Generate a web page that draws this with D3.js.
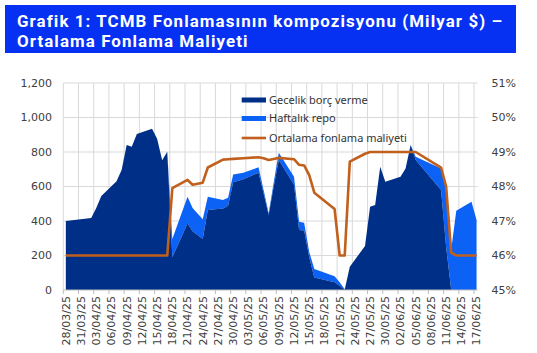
<!DOCTYPE html>
<html><head><meta charset="utf-8">
<script src="https://cdn.jsdelivr.net/npm/d3@7"></script>
<style>body{margin:0;background:#fff}svg{display:block}</style>
</head><body>
<svg id="c" width="537" height="353"></svg>
<script>
// ---- data ----
const titleLines = ["Grafik 1: TCMB Fonlamasının kompozisyonu (Milyar $) –", "Ortalama Fonlama Maliyeti"];
const seriesNames = ["Gecelik borç verme", "Haftalık repo", "Ortalama fonlama maliyeti"];
const dates = ["28/03/25","02/04/25","03/04/25","04/04/25","07/04/25","08/04/25","09/04/25","10/04/25","11/04/25",
  "14/04/25","15/04/25","16/04/25","17/04/25","18/04/25","21/04/25","22/04/25","24/04/25","25/04/25","28/04/25",
  "29/04/25","30/04/25","02/05/25","05/05/25","06/05/25","07/05/25","08/05/25","09/05/25","12/05/25","13/05/25",
  "14/05/25","15/05/25","16/05/25","20/05/25","21/05/25","22/05/25","23/05/25","26/05/25","27/05/25","28/05/25",
  "29/05/25","30/05/25","02/06/25","03/06/25","04/06/25","05/06/25","10/06/25","11/06/25","12/06/25","13/06/25",
  "16/06/25","17/06/25"];
const gecelik = [400,418,475,545,630,696,840,830,905,
  935,877,752,802,190,386,340,295,464,473,
  488,625,642,680,560,435,600,754,610,348,
  345,190,72,45,25,2,135,255,483,493,
  715,628,657,705,840,754,580,250,0,0,
  0,0];
const haftalik = [0,0,0,0,0,0,0,0,0,
  0,0,0,0,105,155,135,115,77,49,
  47,45,38,31,20,10,25,42,47,48,
  45,30,50,35,20,3,0,0,0,0,
  0,0,0,0,0,19,125,340,235,460,
  512,406];
const maliyet = [46.0,46.0,46.0,46.0,46.0,46.0,46.0,46.0,46.0,
  46.0,46.0,46.0,46.0,47.95,48.19,48.05,48.11,48.55,48.78,
  48.79,48.8,48.82,48.85,48.82,48.77,48.8,48.83,48.79,48.63,
  48.61,48.33,47.82,47.35,46.0,46.0,48.72,48.95,49.0,49.0,
  49.0,49.0,49.0,49.0,49.0,49.0,48.55,48.0,46.08,46.0,
  46.0,46.0];
const xTickLabels = ["28/03/25","31/03/25","03/04/25","06/04/25","09/04/25","12/04/25","15/04/25","18/04/25",
  "21/04/25","24/04/25","27/04/25","30/04/25","03/05/25","06/05/25","09/05/25","12/05/25","15/05/25","18/05/25",
  "21/05/25","24/05/25","27/05/25","30/05/25","02/06/25","05/06/25","08/06/25","11/06/25","14/06/25","17/06/25"];
const yTicks = [0,200,400,600,800,1000,1200];
const y2Ticks = [45,46,47,48,49,50,51];
const colors = {dark:"#002f87", light:"#0b62f5", line:"#c0601c", title:"#0631f2"};

// ---- setup ----
const parse = d3.utcParse("%d/%m/%y");
const fmt = d3.format(",");
const svg = d3.select("#c");
const L = 63.3, R = 479.1, T = 83, B = 290;
const half = 12*3600*1000;
const x = d3.scaleUtc().domain([+parse(xTickLabels[0]) - half, +parse(xTickLabels[xTickLabels.length-1]) + half]).range([L, R]);
const y = d3.scaleLinear().domain([0,1200]).range([B, T]);
const y2 = d3.scaleLinear().domain([45,51]).range([B, T]);

const rows = dates.map((d,i)=>({date:parse(d), g:gecelik[i], h:haftalik[i], r:maliyet[i]}));

// title
svg.append("rect").attr("x",5).attr("y",5).attr("width",511).attr("height",48).attr("fill",colors.title);
const t1 = svg.append("text").attr("x",17).attr("y",26.5).attr("fill","#fff").attr("font-family","Roboto")
  .attr("font-weight","bold").attr("font-size",17).text(titleLines[0]);
const w1 = t1.node().getComputedTextLength();
const fs = Math.min(16.9, 17*486/w1);
t1.attr("font-size",fs);
const w2 = t1.node().getComputedTextLength();
const ls = Math.max(0, (486 - w2) / titleLines[0].length);
t1.attr("letter-spacing", ls);
svg.append("text").attr("x",17).attr("y",46.5).attr("fill","#fff").attr("font-family","Roboto")
  .attr("font-weight","bold").attr("font-size",fs).attr("letter-spacing", ls).text(titleLines[1]);

// grid
const grid = svg.append("g").attr("stroke","#d9d9d9").attr("stroke-width",1);
yTicks.forEach(v=>{ if(v>0) grid.append("line").attr("x1",L).attr("x2",R-1.5).attr("y1",y(v)).attr("y2",y(v)); });
xTickLabels.forEach(s=>{ const xx = x(+parse(s)-half); grid.append("line").attr("x1",xx).attr("x2",xx).attr("y1",T).attr("y2",B); });

// areas
const areaG = d3.area().x(d=>x(d.date)).y0(B).y1(d=>y(d.g));
const areaT = d3.area().x(d=>x(d.date)).y0(d=>y(d.g)).y1(d=>y(d.g+d.h));
svg.append("path").datum(rows).attr("d",areaT).attr("fill",colors.light);
svg.append("path").datum(rows).attr("d",areaG).attr("fill",colors.dark);

// line
const line = d3.line().x(d=>x(d.date)).y(d=>y2(d.r));
svg.append("path").datum(rows).attr("d",line).attr("fill","none").attr("stroke",colors.line).attr("stroke-width",2.6).attr("stroke-linejoin","round");

// x axis
svg.append("line").attr("x1",L).attr("x2",R-1.5).attr("y1",B).attr("y2",B).attr("stroke","#bfbfbf");
xTickLabels.forEach(s=>{
  const xx = x(+parse(s)-half);
  svg.append("line").attr("x1",xx).attr("x2",xx).attr("y1",B).attr("y2",B+4).attr("stroke","#bfbfbf");
  svg.append("text").attr("transform",`translate(${x(parse(s))},296) rotate(-90)`).attr("text-anchor","end")
    .attr("dy","0.35em").attr("font-family","DejaVu Sans").attr("font-size",11).attr("fill","#404040").text(s);
});
// y axes
yTicks.forEach(v=>{
  svg.append("text").attr("x",52).attr("y",y(v)).attr("dy","0.35em").attr("text-anchor","end")
    .attr("font-family","DejaVu Sans").attr("font-size",11).attr("fill","#404040").text(fmt(v));
});
y2Ticks.forEach(v=>{
  svg.append("text").attr("x",491.5).attr("y",y2(v)).attr("dy","0.35em").attr("text-anchor","start")
    .attr("font-family","DejaVu Sans").attr("font-size",11).attr("fill","#404040").text(v+"%");
});

// legend
const lg = svg.append("g");
const ly = [100, 118.5, 138];
lg.append("rect").attr("x",241.7).attr("y",ly[0]-2.5).attr("width",24.3).attr("height",5).attr("fill",colors.dark);
lg.append("rect").attr("x",241.7).attr("y",ly[1]-2.5).attr("width",24.3).attr("height",5).attr("fill",colors.light);
lg.append("line").attr("x1",241.7).attr("x2",266).attr("y1",ly[2]).attr("y2",ly[2]).attr("stroke",colors.line).attr("stroke-width",2.6);
seriesNames.forEach((n,i)=>{
  lg.append("text").attr("x",269).attr("y",ly[i]).attr("dy","0.35em").attr("font-family","Noto Sans")
    .attr("font-size",11).attr("fill","#333").text(n);
});
</script>
</body></html>
